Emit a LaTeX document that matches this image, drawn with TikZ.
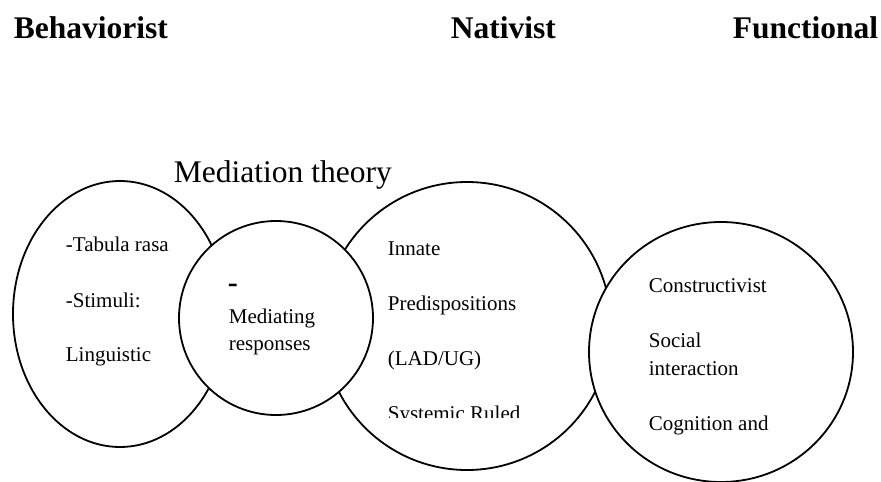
\documentclass[tikz,border=0pt]{standalone}
\usepackage{fontspec}
\setmainfont{Liberation Serif}
\begin{document}
\begin{tikzpicture}[x=1pt,y=-1pt,line width=1.8pt,
    bubble/.style={draw,fill=white},
    item/.style={anchor=base west,inner sep=0pt,font=\fontsize{21}{25}\selectfont},
    heading/.style={anchor=base west,inner sep=0pt,font=\fontsize{31.5}{36}\selectfont\bfseries}]
    \useasboundingbox (0,0) rectangle (881,482);

    % Headings along the top
    \node[heading] (behav) at (13,38) {Behaviorist};
    \node[heading] (nativ) at (450,38) {Nativist};
    \node[heading] (funct) at (732,38) {Functional};

    % Add the mediation label
    \node[heading,font=\fontsize{31.5}{36}\selectfont] (medtitle) at (173,182) {Mediation theory};

    % Draw the left ellipse with its items
    \draw[bubble] (120,314) ellipse [x radius=107, y radius=133];
    \node[item] (tabula) at (65,251) {-Tabula rasa};
    \node[item] (stimuli) at (65,307) {-Stimuli:};
    \node[item] (ling) at (65,361) {Linguistic};

    % Draw the big middle circle
    \draw[bubble] (467,326) circle [radius=144];
    \node[item] (innate) at (387,255) {Innate};
    \node[item] (predisp) at (387,310) {Predispositions};
    \node[item] (lad) at (387,365) {(LAD/UG)};
    % last line is cut off at the bottom
    \begin{scope}
        \clip (380,390) rectangle (560,417);
        \node[item] (systemic) at (387,420) {Systemic Ruled};
    \end{scope}

    % Draw the small circle on top of both
    \draw[bubble] (276,318) circle [radius=97];
    \node[item,font=\fontsize{30}{34}\selectfont\bfseries] (dash) at (227,292) {-};
    \node[item] (mediating) at (228,323) {Mediating};
    \node[item] (responses) at (228,350) {responses};

    % Draw the right circle
    \draw[bubble] (721,352) ellipse [x radius=132, y radius=130];
    \node[item] (constr) at (648,292) {Constructivist};
    \node[item] (social) at (648,347) {Social};
    \node[item] (interact) at (648,375) {interaction};
    \node[item] (cognition) at (648,430) {Cognition and};

\end{tikzpicture}
\end{document}
